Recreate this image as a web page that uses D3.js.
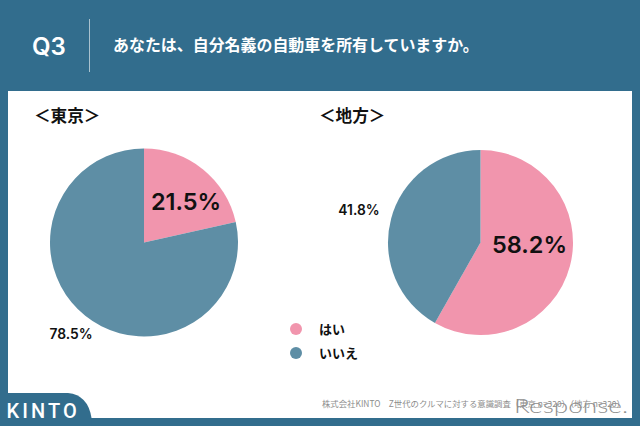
<!DOCTYPE html>
<html><head><meta charset="utf-8">
<script src="https://cdn.jsdelivr.net/npm/d3@7/dist/d3.min.js"></script>
<style>html,body{margin:0;padding:0;background:#326d8d;overflow:hidden}svg{display:block}
text{font-family:"Noto Sans CJK JP","Noto Sans",sans-serif}</style></head><body>
<svg id="c" width="640" height="426"></svg>
<script>
const categories=["はい","いいえ"];
const tokyoValues=[21.5,78.5];
const regionValues=[58.2,41.8];
const tokyoLabels=["21.5%","78.5%"];
const regionLabels=["58.2%","41.8%"];
const colors=["#f195ad","#5e8ea5"];
const questionId="Q3";
const questionText="あなたは、自分名義の自動車を所有していますか。";
const tokyoTitle="＜東京＞";
const regionTitle="＜地方＞";
const footnote="株式会社KINTO　Z世代のクルマに対する意識調査（東京 n=320）（地方 n=320）";
const brand="KINTO";
const watermark="Response.";

const svg=d3.select("#c");
const HEAD="#326d8d";
svg.append("rect").attr("width",640).attr("height",426).attr("fill",HEAD);
svg.append("rect").attr("x",8).attr("y",91).attr("width",624).attr("height",327).attr("fill","#fff");
// logo tab
svg.append("path").attr("d","M0 393 H68 Q88 395 91.5 418 V426 H0 Z").attr("fill",HEAD);
svg.append("text").attr("x",6.5).attr("y",417.5).attr("fill","#fff").attr("font-size",20).attr("font-weight",500)
  .attr("letter-spacing",3.1).style("font-family","Roboto,sans-serif").text(brand);
svg.append("text").attr("x",32).attr("y",55).attr("fill","#fff").attr("font-size",24).attr("font-weight",600)
  .style("font-family","Inter,sans-serif").text(questionId);
svg.append("line").attr("x1",89.5).attr("x2",89.5).attr("y1",19).attr("y2",72).attr("stroke","#a9c2cf").attr("stroke-width",1);
svg.append("text").attr("x",113).attr("y",51).attr("fill","#fff").attr("font-size",15.95).attr("font-weight",700).text(questionText);
svg.append("text").attr("x",34).attr("y",122).attr("fill","#111").attr("font-size",16.6).attr("font-weight",700).text(tokyoTitle);
svg.append("text").attr("x",319).attr("y",122).attr("fill","#111").attr("font-size",16.6).attr("font-weight",700).text(regionTitle);

function pieChart(values,cx,cy,r){
  const pie=d3.pie().sort(null)(values);
  const arc=d3.arc().innerRadius(0).outerRadius(r);
  svg.append("g").attr("transform",`translate(${cx},${cy})`).selectAll("path").data(pie).join("path")
    .attr("d",arc).attr("fill",(d,i)=>colors[i]);
}
pieChart(tokyoValues,144,242.5,94);
pieChart(regionValues,480.5,242.5,92.5);

function label(t,x,y,size){
  svg.append("text").attr("x",x).attr("y",y).attr("text-anchor","middle").attr("fill","#111")
    .attr("font-size",size).attr("font-weight",600).style("font-family","Inter,'Liberation Sans',sans-serif").text(t);
}
label(tokyoLabels[0],186,210,23.5);
label(tokyoLabels[1],71,339,13.8);
label(regionLabels[0],529.5,253,23.5);
label(regionLabels[1],359,215,13.8);

const legendY=d3.scalePoint().domain(categories).range([329,353]);
const lg=svg.append("g").selectAll("g").data(categories).join("g");
lg.append("circle").attr("cx",296).attr("cy",d=>legendY(d)).attr("r",6).attr("fill",(d,i)=>colors[i]);
lg.append("text").attr("x",319).attr("y",d=>legendY(d)+5).attr("fill","#111").attr("font-size",13).attr("font-weight",700).text(d=>d);

svg.append("text").attr("x",322).attr("y",407).attr("fill","#8c8c8c").attr("font-size",8.4).text(footnote);
svg.append("text").attr("x",514).attr("y",413).attr("fill","#8f8f8f").attr("font-size",20).attr("font-weight",300)
  .style("font-family","Lato,sans-serif").attr("textLength",114).attr("lengthAdjust","spacingAndGlyphs").text(watermark);
</script></body></html>
